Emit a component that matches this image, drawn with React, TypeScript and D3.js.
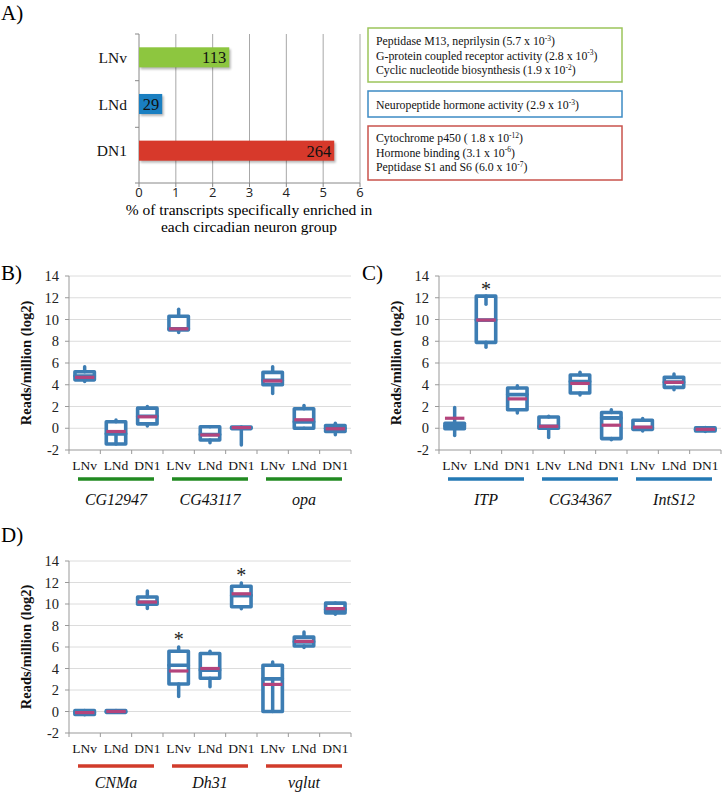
import React from 'react';
import * as d3 from 'd3';

// panel A
const neuronGroups = ['LNv', 'LNd', 'DN1'];
const enrichedPct = [2.45, 0.63, 5.3];
const enrichedCounts = ['113', '29', '264'];
const barColors = ['#8dc63f', '#1a7fc1', '#d7392b'];
const xTicksA = [0, 1, 2, 3, 4, 5, 6];

// GO terms: [text, exponent, closing]
const goGreen = [
  ['Peptidase M13, neprilysin (5.7 x 10', '-3', ')'],
  ['G-protein coupled receptor activity (2.8 x 10', '-3', ')'],
  ['Cyclic nucleotide biosynthesis (1.9 x 10', '-2', ')'],
];
const goBlue = [['Neuropeptide hormone activity (2.9 x 10', '-3', ')']];
const goRed = [
  ['Cytochrome p450 ( 1.8 x 10', '-12', ')'],
  ['Hormone binding (3.1 x 10', '-6', ')'],
  ['Peptidase S1 and S6 (6.0 x 10', '-7', ')'],
];

// box panels: rows are [lo, q1, median, q3, hi, mean]
const yTicksBox = [-2, 0, 2, 4, 6, 8, 10, 12, 14];

const genesB = ['CG12947', 'CG43117', 'opa'];
const boxesB = [
  [4.3, 4.45, 4.8, 5.2, 5.65, 4.68],
  [-0.5, -1.45, -0.5, 0.6, 0.75, -0.3],
  [0.2, 0.4, 1.1, 1.85, 2.0, 1.05],
  [8.8, 9.05, 9.15, 10.3, 10.95, 9.14],
  [-1.33, -1.08, -0.58, 0.14, 0.14, -0.62],
  [-1.55, -0.03, 0.05, 0.12, 0.12, 0.06],
  [3.2, 4.0, 4.4, 5.14, 5.65, 4.35],
  [0.0, 0.0, 0.6, 1.8, 2.1, 0.78],
  [-0.6, -0.3, 0.0, 0.25, 0.45, -0.05],
];
const starsB: number[][] = [];

const genesC = ['ITP', 'CG34367', 'IntS12'];
const boxesC = [
  [-0.67, -0.05, 0.2, 0.45, 1.9, 0.92],
  [7.45, 7.9, 9.95, 12.15, 11.4, 9.95],
  [1.4, 1.7, 3.1, 3.7, 3.9, 2.7],
  [-0.85, 0.0, 0.17, 1.03, 1.1, 0.18],
  [3.06, 3.24, 4.3, 4.89, 5.14, 4.12],
  [-1.05, -0.95, 0.95, 1.45, 1.7, 0.28],
  [-0.25, -0.1, 0.07, 0.73, 0.9, 0.1],
  [3.55, 3.76, 4.24, 4.68, 4.98, 4.22],
  [-0.3, -0.25, -0.1, 0.05, 0.08, -0.1],
];
const starsC = [[1, 12.95]];

const genesD = ['CNMa', 'Dh31', 'vglut'];
const boxesD = [
  [-0.3, -0.28, -0.1, 0.1, 0.1, -0.1],
  [-0.05, -0.08, 0.0, 0.08, 0.1, 0.0],
  [9.57, 9.97, 10.15, 10.65, 11.2, 10.18],
  [1.4, 2.56, 4.3, 5.6, 6.0, 3.77],
  [2.3, 3.1, 3.85, 5.4, 5.6, 4.0],
  [9.55, 9.75, 10.8, 11.65, 11.95, 10.95],
  [3.05, 0.0, 3.05, 4.3, 4.6, 2.52],
  [5.95, 6.1, 6.5, 6.92, 7.4, 6.52],
  [9.05, 9.17, 9.5, 10.08, 10.1, 9.57],
];
const starsD = [[3, 6.95], [5, 12.9]];

const SERIF = '"Liberation Serif", "Times New Roman", serif';
const SANS = '"Open Sans", "Liberation Sans", sans-serif';
const BOX_BLUE = '#3d7db3';
const MEAN_PINK = '#b4447c';

const GoBox = ({ x, y, w, h, color, lines, top }) => (
  <g>
    <rect x={x} y={y} width={w} height={h} fill="white" stroke={color} strokeWidth={1.5} />
    {lines.map((l, i) => (
      <text key={i} x={x + 8} y={top + i * 14.5} fontFamily={SERIF} fontSize={11.8} fill="#111">
        {l[0]}
        <tspan fontSize={7.5} dy={-4.5}>{l[1]}</tspan>
        <tspan dy={4.5}>{l[2]}</tspan>
      </text>
    ))}
  </g>
);

const PanelA = () => {
  const x = d3.scaleLinear().domain([0, 6]).range([139, 360]);
  const y = d3.scaleBand().domain(neuronGroups).range([34, 174]);
  const barH = y.bandwidth() * 0.43;
  const axisY = 183;
  return (
    <g>
      <defs>
        <filter id="shadow" x="-10%" y="-30%" width="120%" height="160%">
          <feGaussianBlur stdDeviation="1.2" />
        </filter>
      </defs>
      <text x={1} y={20} fontFamily={SERIF} fontSize={21}>A)</text>
      {xTicksA.map((t) => (
        <g key={t}>
          {t > 0 && <line x1={x(t)} x2={x(t)} y1={34} y2={axisY} stroke="#a8a8a8" strokeWidth={1} />}
          <line x1={x(t)} x2={x(t)} y1={axisY} y2={axisY + 4} stroke="#888" />
          <text x={x(t)} y={197} textAnchor="middle" fontFamily={SANS} fontSize={13} fill="#222">{t}</text>
        </g>
      ))}
      <line x1={x(0)} x2={x(0)} y1={34} y2={axisY} stroke="#888" />
      <line x1={x(0)} x2={x(6)} y1={axisY} y2={axisY} stroke="#888" />
      {[34, 80.7, 127.3, axisY].map((v) => (
        <line key={v} x1={x(0) - 4} x2={x(0)} y1={v} y2={v} stroke="#888" />
      ))}
      {neuronGroups.map((g, i) => {
        const cy = y(g) + y.bandwidth() / 2;
        return (
          <g key={g}>
            <rect x={x(0) + 1.5} y={cy - barH / 2 + 2} width={x(enrichedPct[i]) - x(0)} height={barH}
              fill="#000" opacity={0.28} filter="url(#shadow)" />
            <rect x={x(0)} y={cy - barH / 2} width={x(enrichedPct[i]) - x(0)} height={barH} fill={barColors[i]} />
            <text x={x(enrichedPct[i]) - 3} y={cy + 6} textAnchor="end" fontFamily={SERIF} fontSize={16.5} fill="#111">
              {enrichedCounts[i]}
            </text>
            <text x={127} y={cy + 5.5} textAnchor="end" fontFamily={SERIF} fontSize={15.5} fill="#111">{g}</text>
          </g>
        );
      })}
      <text x={249} y={215} textAnchor="middle" fontFamily={SERIF} fontSize={15.5}>% of transcripts specifically enriched in</text>
      <text x={249} y={232} textAnchor="middle" fontFamily={SERIF} fontSize={15.5}>each circadian neuron group</text>
      <GoBox x={368} y={28} w={254} h={54} color="#9cc55b" lines={goGreen} top={45} />
      <GoBox x={368} y={91} w={254} h={26} color="#3c8bc4" lines={goBlue} top={109} />
      <GoBox x={368} y={126} w={254} h={54} color="#c9534c" lines={goRed} top={142} />
    </g>
  );
};

const BoxPanel = ({ label, labelX, labelY, axisX, axisRight, yBottom, yTop, genes, boxes, stars, lineColor, catY, lineY, geneY }) => {
  const keys = genes.flatMap((g) => neuronGroups.map((n) => g + '-' + n));
  const x = d3.scaleBand().domain(keys).range([axisX, axisRight]);
  const y = d3.scaleLinear().domain([-2, 14]).range([yBottom, yTop]);
  const bw = x.bandwidth();
  const w = bw * 0.62;
  return (
    <g>
      <text x={labelX} y={labelY} fontFamily={SERIF} fontSize={21}>{label}</text>
      {yTicksBox.map((t) => (
        <g key={t}>
          {t > -2 && <line x1={axisX} x2={axisRight} y1={y(t)} y2={y(t)} stroke="#dcdcdc" />}
          <line x1={axisX - 4} x2={axisX} y1={y(t)} y2={y(t)} stroke="#999" />
          <text x={axisX - 10} y={y(t) + 5} textAnchor="end" fontFamily={SERIF} fontSize={14.5} fill="#222">{t}</text>
        </g>
      ))}
      <line x1={axisX} x2={axisX} y1={yTop} y2={yBottom} stroke="#999" />
      <line x1={axisX} x2={axisRight} y1={yBottom} y2={yBottom} stroke="#999" />
      {keys.map((k) => (
        <line key={k} x1={x(k)} x2={x(k)} y1={yBottom} y2={yBottom + 4} stroke="#999" />
      ))}
      <line x1={axisRight} x2={axisRight} y1={yBottom} y2={yBottom + 4} stroke="#999" />
      <text
        transform={`translate(${axisX - 38},${(yTop + yBottom) / 2}) rotate(-90)`}
        textAnchor="middle" fontFamily={SERIF} fontWeight="bold" fontSize={14.5} fill="#111">
        Reads/million (log2)
      </text>
      {keys.map((k, i) => {
        const [lo, q1, med, q3, hi, mean] = boxes[i];
        const cx = x(k) + bw / 2;
        return (
          <g key={k}>
            <rect x={cx - w / 2} y={y(med)} width={w} height={y(q1) - y(med)} fill="white"
              stroke={BOX_BLUE} strokeWidth={3.6} strokeLinejoin="round" />
            <rect x={cx - w / 2} y={y(q3)} width={w} height={y(med) - y(q3)} fill="white"
              stroke={BOX_BLUE} strokeWidth={3.6} strokeLinejoin="round" />
            <line x1={cx} x2={cx} y1={y(q3)} y2={y(hi)} stroke={BOX_BLUE} strokeWidth={3.5} strokeLinecap="round" />
            <line x1={cx} x2={cx} y1={y(q1)} y2={y(lo)} stroke={BOX_BLUE} strokeWidth={3.5} strokeLinecap="round" />
            <line x1={cx - w / 2} x2={cx + w / 2} y1={y(mean)} y2={y(mean)} stroke={MEAN_PINK} strokeWidth={3.2} />
          </g>
        );
      })}
      {stars.map(([i, v]) => (
        <text key={i} x={x(keys[i]) + bw / 2} y={y(v) + 9} textAnchor="middle" fontFamily={SERIF} fontSize={20} fill="#222">*</text>
      ))}
      {keys.map((k, i) => (
        <text key={k} x={x(k) + bw / 2} y={catY} textAnchor="middle" fontFamily={SERIF} fontSize={13.5} fill="#111">
          {neuronGroups[i % 3]}
        </text>
      ))}
      {genes.map((g, gi) => {
        const x0 = x(keys[gi * 3]);
        const x1 = x(keys[gi * 3 + 2]) + bw;
        return (
          <g key={g}>
            <line x1={x0 + 9} x2={x1 - 9} y1={lineY} y2={lineY} stroke={lineColor} strokeWidth={3.5} />
            <text x={(x0 + x1) / 2} y={geneY} textAnchor="middle" fontFamily={SERIF} fontStyle="italic" fontSize={16} fill="#111">{g}</text>
          </g>
        );
      })}
    </g>
  );
};

export default function App() {
  return (
    <svg width={723} height={794} style={{ display: 'block', position: 'absolute', left: 0, top: 0, background: 'white' }}>
      <rect width={723} height={794} fill="white" />
      <PanelA />
      <BoxPanel label="B)" labelX={1} labelY={280} axisX={69} axisRight={351} yBottom={450} yTop={276}
        genes={genesB} boxes={boxesB} stars={starsB} lineColor="#218a21" catY={470} lineY={479} geneY={505} />
      <BoxPanel label="C)" labelX={362} labelY={280} axisX={439} axisRight={721} yBottom={450} yTop={276}
        genes={genesC} boxes={boxesC} stars={starsC} lineColor="#2479b4" catY={470} lineY={479} geneY={505} />
      <BoxPanel label="D)" labelX={1} labelY={542} axisX={69} axisRight={351} yBottom={733} yTop={561}
        genes={genesD} boxes={boxesD} stars={starsD} lineColor="#d13b2b" catY={753} lineY={766} geneY={788} />
    </svg>
  );
}
